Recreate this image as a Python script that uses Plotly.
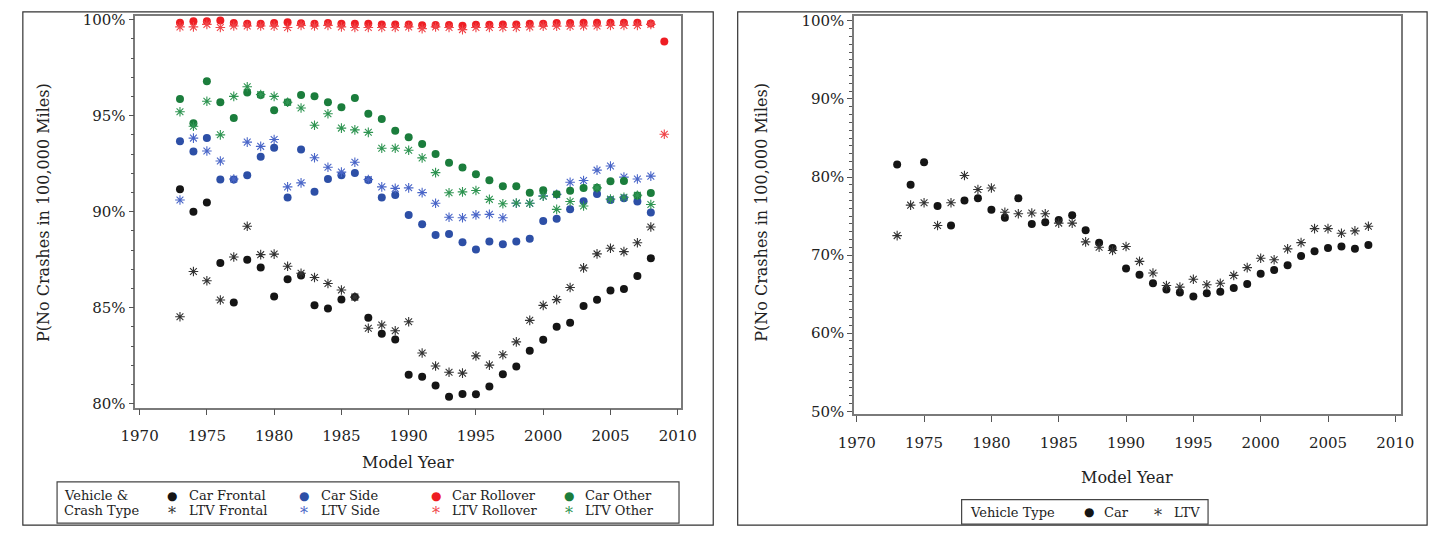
import plotly.graph_objects as go

# ---------------- data (percent) ----------------
years = list(range(1973, 2009))           # 1973..2008
years_roll = list(range(1973, 2010))      # 1973..2009

car_frontal = [91.16, 90.00, 90.48, 87.33, 85.27, 87.50, 87.09, 85.58, 86.48, 86.68,
               85.12, 84.95, 85.43, 85.55, 84.48, 83.64, 83.34, 81.50, 81.40, 80.95,
               80.36, 80.51, 80.49, 80.90, 81.53, 81.94, 82.75, 83.33, 84.01, 84.22,
               85.08, 85.41, 85.90, 85.97, 86.65, 87.57]
ltv_frontal = [84.53, 86.88, 86.40, 85.40, 87.64, 89.24, 87.76, 87.79, 87.16, 86.79,
               86.57, 86.26, 85.92, 85.55, 83.93, 84.10, 83.80, 84.27, 82.64, 81.96,
               81.64, 81.59, 82.49, 82.01, 82.55, 83.22, 84.34, 85.12, 85.42, 86.05,
               87.07, 87.80, 88.09, 87.92, 88.38, 89.20]
car_side = [93.66, 93.13, 93.83, 91.67, 91.67, 91.89, 92.86, 93.33, 90.73, 93.23,
            91.04, 91.70, 91.89, 92.01, 91.65, 90.73, 90.87, 89.82, 89.34, 88.79,
            88.83, 88.40, 88.03, 88.45, 88.30, 88.45, 88.59, 89.51, 89.63, 90.12,
            90.54, 90.92, 90.61, 90.70, 90.53, 89.95]
ltv_side = [90.61, 93.83, 93.16, 92.64, 91.70, 93.62, 93.40, 93.76, 91.29, 91.50,
            92.81, 92.31, 92.06, 92.57, 91.67, 91.29, 91.21, 91.24, 90.99, 90.44,
            89.71, 89.68, 89.83, 89.86, 89.68, 90.44, 90.44, 90.82, 90.90, 91.53,
            91.62, 92.16, 92.38, 91.80, 91.70, 91.85]
car_rollover = [99.84, 99.92, 99.92, 99.95, 99.83, 99.79, 99.79, 99.83, 99.86, 99.81,
                99.79, 99.83, 99.78, 99.78, 99.78, 99.75, 99.75, 99.75, 99.70, 99.72,
                99.72, 99.68, 99.73, 99.73, 99.75, 99.75, 99.79, 99.79, 99.82, 99.82,
                99.84, 99.84, 99.84, 99.84, 99.84, 99.80, 98.86]
ltv_rollover = [99.62, 99.62, 99.75, 99.59, 99.67, 99.67, 99.67, 99.66, 99.59, 99.70,
                99.67, 99.70, 99.62, 99.59, 99.59, 99.59, 99.59, 99.62, 99.53, 99.62,
                99.59, 99.48, 99.59, 99.59, 99.59, 99.59, 99.62, 99.66, 99.66, 99.66,
                99.67, 99.67, 99.70, 99.70, 99.70, 99.75, 94.03]
car_other = [95.87, 94.60, 96.79, 95.70, 94.88, 96.21, 96.08, 95.28, 95.70, 96.08,
             96.01, 95.70, 95.44, 95.92, 95.10, 94.82, 94.21, 93.88, 93.52, 93.00,
             92.55, 92.30, 91.95, 91.64, 91.32, 91.32, 90.99, 91.12, 90.91, 91.09,
             91.23, 91.25, 91.58, 91.60, 90.84, 90.97]
ltv_other = [95.20, 94.45, 95.75, 94.00, 96.00, 96.50, 96.10, 96.00, 95.70, 95.40,
             94.50, 95.10, 94.35, 94.26, 94.13, 93.30, 93.30, 93.20, 92.80, 92.03,
             90.98, 91.03, 91.10, 90.64, 90.41, 90.45, 90.44, 90.80, 90.12, 90.53,
             90.29, 91.24, 90.65, 90.75, 90.85, 90.37]

car_all = [81.6, 79.0, 81.9, 76.3, 73.8, 77.0, 77.3, 75.8, 74.8, 77.3,
           74.0, 74.2, 74.5, 75.1, 73.2, 71.6, 70.9, 68.3, 67.5, 66.4,
           65.6, 65.2, 64.7, 65.1, 65.3, 65.8, 66.3, 67.6, 68.1, 68.7,
           69.9, 70.5, 70.9, 71.1, 70.8, 71.3]
ltv_all = [72.5, 76.4, 76.7, 73.8, 76.7, 80.2, 78.4, 78.6, 75.5, 75.3,
           75.4, 75.3, 74.1, 74.1, 71.7, 71.0, 70.6, 71.1, 69.2, 67.7,
           66.1, 65.9, 66.9, 66.2, 66.4, 67.4, 68.4, 69.6, 69.4, 70.8,
           71.6, 73.4, 73.4, 72.8, 73.1, 73.7]

x_ticks = [1970, 1975, 1980, 1985, 1990, 1995, 2000, 2005, 2010]
y_ticks_left = [80, 85, 90, 95, 100]
y_ticks_right = [50, 60, 70, 80, 90, 100]

left_series = [
    ("Car Frontal", years, car_frontal, "#151515", "dot"),
    ("LTV Frontal", years, ltv_frontal, "#333333", "ast"),
    ("Car Side", years, car_side, "#2d4fa6", "dot"),
    ("LTV Side", years, ltv_side, "#4a66c8", "ast"),
    ("Car Rollover", years_roll, car_rollover, "#ee1d23", "dot"),
    ("LTV Rollover", years_roll, ltv_rollover, "#f0464a", "ast"),
    ("Car Other", years, car_other, "#1b7d3c", "dot"),
    ("LTV Other", years, ltv_other, "#2f9552", "ast"),
]

W, H = 1448, 533
FONT = "DejaVu Serif"


def px_x(p):
    return p / W


def px_y(p):
    return 1 - p / H


def marker(kind, col):
    if kind == "dot":
        return dict(symbol="circle", size=8, color=col)
    return dict(symbol="asterisk-open", size=8, color=col, line=dict(color=col, width=1.1))


fig = go.Figure()

for name, xs, ys, col, kind in left_series:
    fig.add_trace(go.Scatter(x=xs, y=ys, mode="markers", name=name, marker=marker(kind, col),
                             xaxis="x", yaxis="y", showlegend=False))

fig.add_trace(go.Scatter(x=years, y=car_all, mode="markers", name="Car",
                         marker=marker("dot", "#151515"),
                         xaxis="x2", yaxis="y2", showlegend=False))
fig.add_trace(go.Scatter(x=years, y=ltv_all, mode="markers", name="LTV",
                         marker=marker("ast", "#333333"),
                         xaxis="x2", yaxis="y2", showlegend=False))

axis_common = dict(showgrid=False, zeroline=False, showline=True, mirror=True,
                   linecolor="#7a7a7a", linewidth=1.5, ticks="outside",
                   tickcolor="#555555", tickfont=dict(family=FONT, size=15, color="#222"))

fig.update_layout(
    width=W, height=H, autosize=False,
    margin=dict(l=0, r=0, t=0, b=0),
    paper_bgcolor="white", plot_bgcolor="white",
    xaxis=dict(domain=[px_x(122), px_x(680)], range=[1969.68, 2010.24],
               tickvals=x_ticks, ticktext=[str(v) for v in x_ticks],
               ticklen=6, ticklabelstandoff=8, anchor="y", **axis_common),
    yaxis=dict(domain=[px_y(411), px_y(11)], range=[79.8, 100.2],
               tickvals=y_ticks_left, ticktext=[f"{v}%" for v in y_ticks_left],
               ticklen=5, anchor="x",
               minor=dict(dtick=1, ticks="outside", ticklen=3, tickcolor="#555555"),
               **axis_common),
    xaxis2=dict(domain=[px_x(857), px_x(1416)], range=[1969.8, 2010.4],
                tickvals=x_ticks, ticktext=[str(v) for v in x_ticks],
                ticklen=6, ticklabelstandoff=8, anchor="y2", **axis_common),
    yaxis2=dict(domain=[px_y(418), px_y(11)], range=[49.6, 100.66],
                tickvals=y_ticks_right, ticktext=[f"{v}%" for v in y_ticks_right],
                ticklen=5, anchor="x2",
                minor=dict(dtick=1, ticks="outside", ticklen=3, tickcolor="#555555"),
                **axis_common),
)

shapes = [
    dict(type="rect", xref="paper", yref="paper", x0=px_x(7), x1=px_x(713),
         y0=px_y(531), y1=px_y(7), line=dict(color="#333", width=1.2)),
    dict(type="rect", xref="paper", yref="paper", x0=px_x(738), x1=px_x(1443),
         y0=px_y(531), y1=px_y(7), line=dict(color="#333", width=1.2)),
    # legend boxes
    dict(type="rect", xref="paper", yref="paper", x0=px_x(42), x1=px_x(678),
         y0=px_y(529), y1=px_y(487), line=dict(color="#444", width=1.2)),
    dict(type="rect", xref="paper", yref="paper", x0=px_x(967), x1=px_x(1219),
         y0=px_y(530), y1=px_y(505), line=dict(color="#444", width=1.2)),
]

ann = []


def text(x, y, s, size=14, color="#222", xanchor="center", angle=0):
    ann.append(dict(x=px_x(x), y=px_y(y), xref="paper", yref="paper", text=s,
                    showarrow=False, xanchor=xanchor, yanchor="middle", textangle=angle,
                    font=dict(family=FONT, size=size, color=color)))


ytitle = "P(No Crashes in 100,000 Miles)"
text(28, 212, ytitle, size=16, angle=-90)
text(762, 212, ytitle, size=16, angle=-90)
text(401, 467, "Model Year", size=16)
text(1136, 482, "Model Year", size=16)

# left legend
text(47, 501, "Vehicle &amp;", size=13, xanchor="left")
text(47, 516, "Crash Type", size=13, xanchor="left")
cols = [(160, 175), (295, 310), (429, 444), (565, 580)]
for i, (sx, tx) in enumerate(cols):
    car_name, _, _, car_col, _ = left_series[2 * i]
    ltv_name, _, _, ltv_col, _ = left_series[2 * i + 1]
    text(sx, 501, "●", size=12, color=car_col)
    text(sx, 519, "*", size=16, color=ltv_col)
    text(tx, 501, car_name, size=13, xanchor="left")
    text(tx, 516, ltv_name, size=13, xanchor="left")

# right legend
text(974, 518, "Vehicle Type", size=13, xanchor="left")
text(1097, 518, "●", size=12, color="#151515")
text(1111, 518, "Car", size=13, xanchor="left")
text(1168, 521, "*", size=16, color="#333333")
text(1182, 518, "LTV", size=13, xanchor="left")

fig.update_layout(shapes=shapes, annotations=ann)
fig.write_html("out.html")
